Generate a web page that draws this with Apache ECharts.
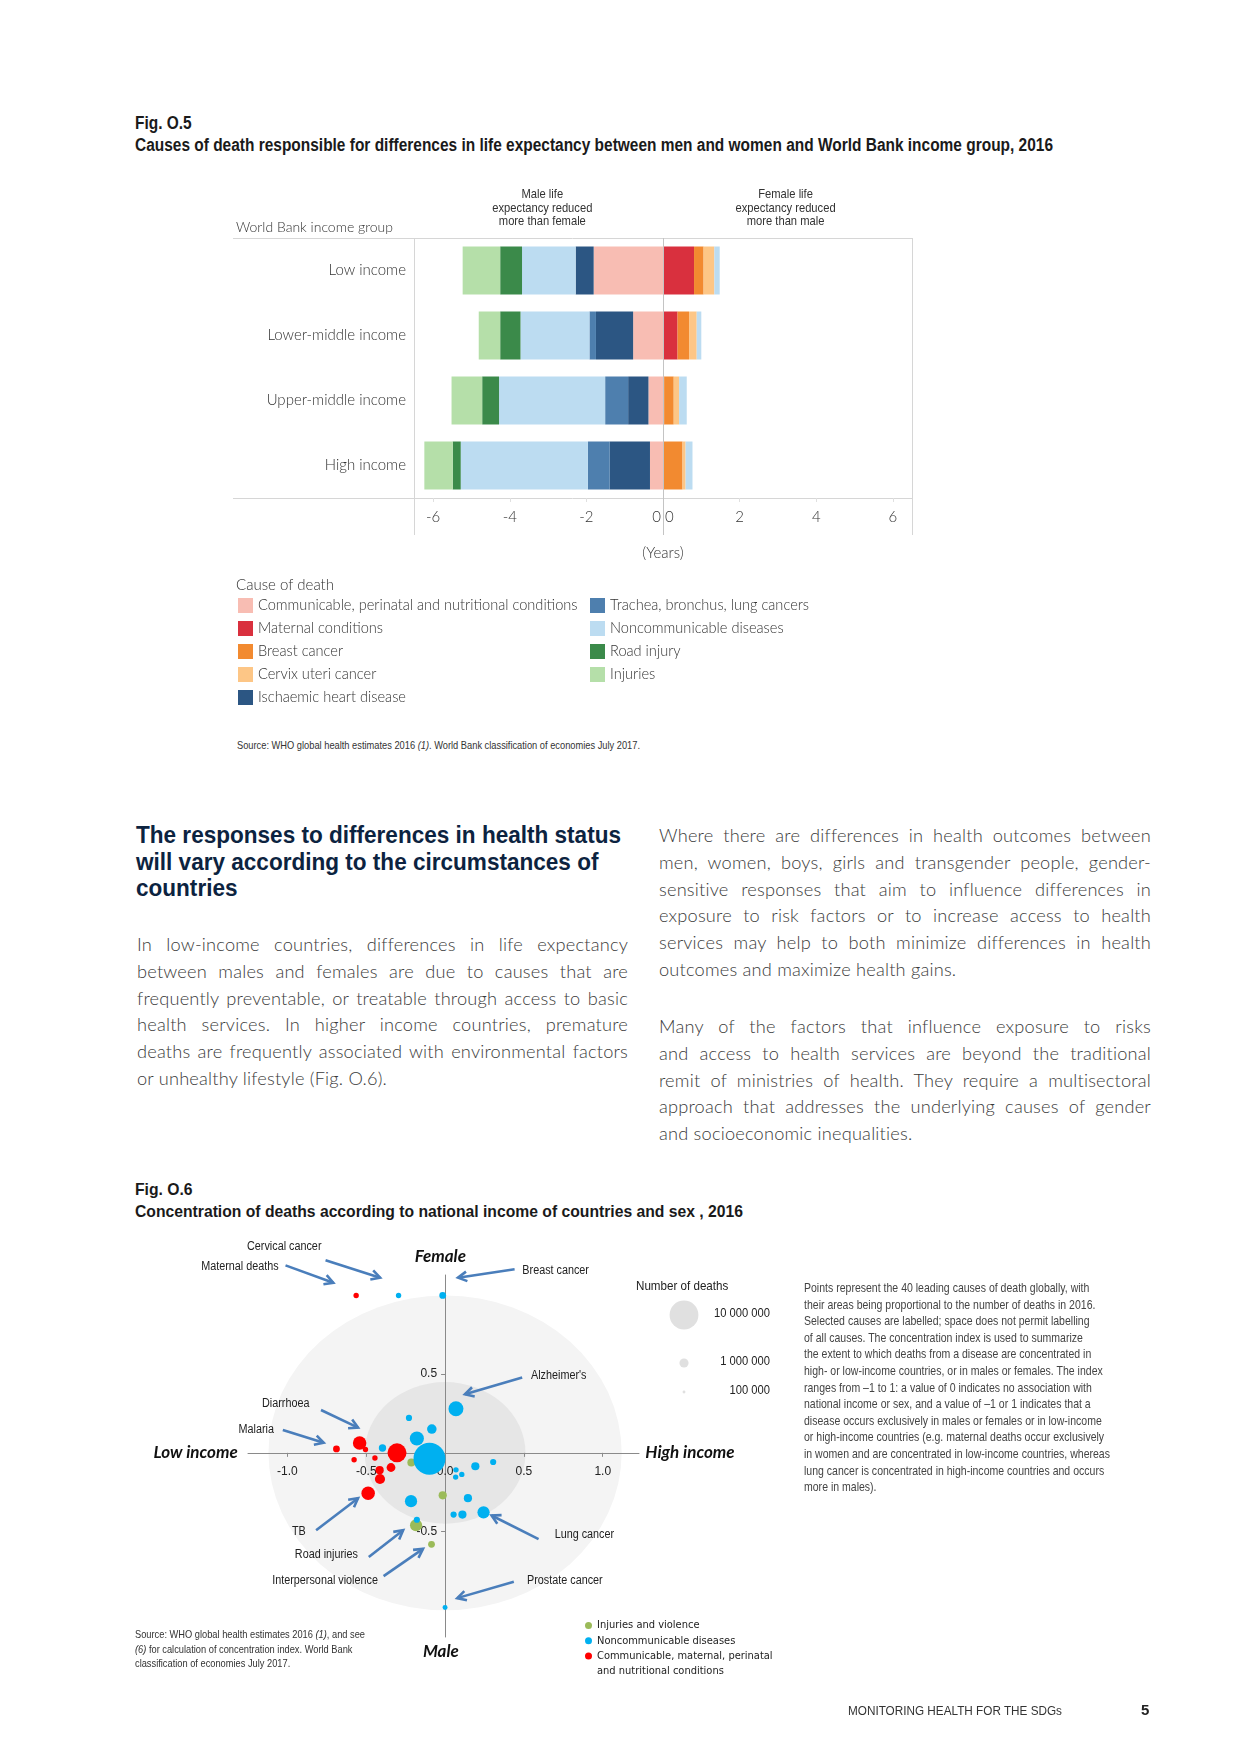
<!DOCTYPE html>
<html><head><meta charset="utf-8">
<script src="https://cdn.jsdelivr.net/npm/echarts@6/dist/echarts.min.js"></script>
<style>
html,body{margin:0;padding:0;background:#fff;}
body{width:1240px;height:1754px;position:relative;overflow:hidden;font-family:Lato,'Open Sans',sans-serif;}
.abs{position:absolute;}
.narrow{font-family:'Liberation Sans',Arial,sans-serif;white-space:nowrap;transform-origin:0 0;}
.figt{font-weight:bold;color:#1a1a1a;}
.para{font-family:Lato,'Open Sans',sans-serif;font-weight:300;font-size:19px;letter-spacing:0.2px;line-height:26.8px;color:#3a3a3a;}
.para .row{height:26.8px;white-space:nowrap;overflow:visible;}
.para .j{text-align:justify;text-align-last:justify;}
.para.ready .row{white-space:normal;}
.head{font-weight:bold;color:#0c2340;font-size:24px;line-height:26.5px;}
.note{font-size:13.5px;line-height:16.6px;color:#444;}
.src{font-size:11px;color:#333;}
</style></head>
<body>
<div id="t5" class="abs narrow figt" style="left:135px;top:112px;font-size:18px;line-height:22px;">Fig. O.5<br>Causes of death responsible for differences in life expectancy between men and women and World Bank income group, 2016</div>

<div id="c1" class="abs" style="left:0;top:150px;width:1240px;height:580px;"></div>

<div id="s5" class="abs narrow src" style="left:237px;top:739px;">Source: WHO global health estimates 2016 <i>(1)</i>. World Bank classification of economies July 2017.</div>

<div id="hd" class="abs narrow head" style="left:136px;top:822px;">The responses to differences in health status<br>will vary according to the circumstances of<br>countries</div>

<div class="abs para" style="left:137px;top:931px;width:491px;">
<div class="row j"><span class="ln">In low-income countries, differences in life expectancy</span></div>
<div class="row j"><span class="ln">between males and females are due to causes that are</span></div>
<div class="row j"><span class="ln">frequently preventable, or treatable through access to basic</span></div>
<div class="row j"><span class="ln">health services. In higher income countries, premature</span></div>
<div class="row j"><span class="ln">deaths are frequently associated with environmental factors</span></div>
<div class="row"><span class="ln">or unhealthy lifestyle (Fig. O.6).</span></div>
</div>

<div class="abs para" style="left:659px;top:822px;width:492px;">
<div class="row j"><span class="ln">Where there are differences in health outcomes between</span></div>
<div class="row j"><span class="ln">men, women, boys, girls and transgender people, gender-</span></div>
<div class="row j"><span class="ln">sensitive responses that aim to influence differences in</span></div>
<div class="row j"><span class="ln">exposure to risk factors or to increase access to health</span></div>
<div class="row j"><span class="ln">services may help to both minimize differences in health</span></div>
<div class="row"><span class="ln">outcomes and maximize health gains.</span></div>
</div>

<div class="abs para" style="left:659px;top:1013px;width:492px;">
<div class="row j"><span class="ln">Many of the factors that influence exposure to risks</span></div>
<div class="row j"><span class="ln">and access to health services are beyond the traditional</span></div>
<div class="row j"><span class="ln">remit of ministries of health. They require a multisectoral</span></div>
<div class="row j"><span class="ln">approach that addresses the underlying causes of gender</span></div>
<div class="row"><span class="ln">and socioeconomic inequalities.</span></div>
</div>

<div id="t6" class="abs narrow figt" style="left:135px;top:1179px;font-size:17px;line-height:22px;">Fig. O.6<br>Concentration of deaths according to national income of countries and sex , 2016</div>

<div id="c2" class="abs" style="left:0;top:1225px;width:1240px;height:490px;"></div>

<div id="nt" class="abs narrow note" style="left:804px;top:1280px;">Points represent the 40 leading causes of death globally, with<br>their areas being proportional to the number of deaths in 2016.<br>Selected causes are labelled; space does not permit labelling<br>of all causes. The concentration index is used to summarize<br>the extent to which deaths from a disease are concentrated in<br>high- or low-income countries, or in males or females. The index<br>ranges from –1 to 1: a value of 0 indicates no association with<br>national income or sex, and a value of –1 or 1 indicates that a<br>disease occurs exclusively in males or females or in low-income<br>or high-income countries (e.g. maternal deaths occur exclusively<br>in women and are concentrated in low-income countries, whereas<br>lung cancer is concentrated in high-income countries and occurs<br>more in males).</div>

<div id="s6" class="abs narrow src" style="left:135px;top:1627px;line-height:14.5px;">Source: WHO global health estimates 2016 <i>(1)</i>, and see<br><i>(6)</i> for calculation of concentration index. World Bank<br>classification of economies July 2017.</div>

<div id="ft" class="abs narrow" style="left:848px;top:1704px;font-size:12px;color:#333;">MONITORING HEALTH FOR THE SDGs</div>
<div class="abs" style="left:1141px;top:1701px;font-family:'Liberation Sans',Arial,sans-serif;font-size:15px;font-weight:bold;color:#222;">5</div>

<script>
// ---------------- Fig O.5 data ----------------
const incomeGroups = ['Low income', 'Lower-middle income', 'Upper-middle income', 'High income'];
const communicable = [-1.81, -0.78, -0.38, -0.34];
const maternal     = [0.81, 0.38, 0.03, 0.00];
const breastCancer = [0.25, 0.30, 0.25, 0.51];
const cervixCancer = [0.28, 0.20, 0.14, 0.08];
const ischaemic    = [-0.47, -0.97, -0.53, -1.05];
const tracheaLung  = [0.00, -0.17, -0.60, -0.57];
const ncdNegative  = [-1.40, -1.80, -2.77, -3.32];
const ncdPositive  = [0.14, 0.12, 0.20, 0.18];
const roadInjury   = [-0.57, -0.53, -0.44, -0.21];
const injuries     = [-0.98, -0.56, -0.80, -0.74];
const yearTicks    = [-6, -4, -2, 0, 2, 4, 6];

// ---------------- Fig O.6 data ----------------
// income concentration index, sex concentration index, deaths (thousands)
const ncdIncome  = [0.069, -0.229, -0.084, -0.179, -0.397, -0.099, 0.069, 0.067, 0.106, 0.192, 0.305, -0.216, 0.145, 0.054, 0.110, 0.244, -0.179, -0.295, -0.015, 0.000];
const ncdSex     = [0.280, 0.222, 0.151, 0.091, 0.031, -0.037, -0.108, -0.154, -0.137, -0.085, -0.058, -0.307, -0.288, -0.392, -0.392, -0.378, -0.425, 1.000, 1.000, -0.983];
const ncdDeaths  = [2700, 460, 1100, 2400, 650, 12300, 350, 350, 350, 810, 460, 1800, 810, 460, 810, 1800, 460, 350, 560, 300];

const cmpIncome  = [-0.542, -0.505, -0.689, -0.305, -0.577, -0.445, -0.415, -0.343, -0.413, -0.488, -0.564];
const cmpSex     = [0.062, 0.021, 0.025, 0.000, -0.044, -0.033, -0.110, -0.093, -0.166, -0.257, 1.000];
const cmpDeaths  = [2200, 350, 560, 4350, 350, 350, 810, 930, 1250, 2200, 350];

const injIncome  = [-0.214, -0.015, -0.184, -0.086];
const injSex     = [-0.062, -0.270, -0.460, -0.581];
const injDeaths  = [770, 810, 1800, 560];

const sizeLegendDeaths = [10000, 1000, 100];
const sizeLegendLabels = ['10 000 000', '1 000 000', '100 000'];

const axisTicksX = [-1, -0.5, 0, 0.5, 1];
const axisTicksY = [-0.5, 0.5];

// annotations (data coordinates)
const noteLabels = [
  ['Cervical cancer', -1.020, 1.313, 'center'],
  ['Maternal deaths', -1.056, 1.185, 'right'],
  ['Breast cancer', 0.490, 1.160, 'left'],
  ["Alzheimer's", 0.545, 0.490, 'left'],
  ['Diarrhoea', -0.860, 0.315, 'right'],
  ['Malaria', -1.085, 0.145, 'right'],
  ['TB', -0.927, -0.502, 'center'],
  ['Road injuries', -0.753, -0.648, 'center'],
  ['Interpersonal violence', -0.426, -0.810, 'right'],
  ['Prostate cancer', 0.520, -0.810, 'left'],
  ['Lung cancer', 0.695, -0.520, 'left']
];
const arrowFrom = [[-0.758, 1.223], [-1.012, 1.191], [0.441, 1.166], [0.489, 0.479], [-0.787, 0.272], [-1.029, 0.145], [-0.818, -0.492], [-0.484, -0.662], [-0.390, -0.783], [0.436, -0.819], [0.593, -0.548]];
const arrowTo   = [[-0.412, 1.113], [-0.709, 1.081], [0.082, 1.113], [0.126, 0.372], [-0.552, 0.160], [-0.770, 0.064], [-0.552, -0.288], [-0.266, -0.492], [-0.140, -0.610], [0.077, -0.923], [0.295, -0.398]];

const NARROW = "'Liberation Sans',Arial,sans-serif";
const COND = "'DejaVu Sans Condensed',sans-serif";
const LIGHT = "Lato,'Open Sans',sans-serif";
const ARIAL = "'Liberation Sans',Arial,sans-serif";

// fit condensed HTML text blocks to the measured widths of the original
function fitWidth(id, target) {
  const el = document.getElementById(id);
  const w = el.getBoundingClientRect().width;
  if (w > 0) el.style.transform = 'scaleX(' + (target / w) + ')';
}
fitWidth('t5', 918); fitWidth('t6', 608); fitWidth('hd', 485); fitWidth('s5', 403);
fitWidth('nt', 306); fitWidth('s6', 230); fitWidth('ft', 214);

// size body text so that the longest (unwrapped) line just fits its column
(function () {
  const spans = document.querySelectorAll('.para .ln');
  let maxRatio = 0;
  spans.forEach(s => {
    const w = s.getBoundingClientRect().width;
    const cw = s.parentElement.parentElement.clientWidth;
    maxRatio = Math.max(maxRatio, w / cw);
  });
  const f = Math.min(1.08, 0.985 / maxRatio);
  document.querySelectorAll('.para').forEach(p => { p.style.fontSize = (19 * f) + 'px'; });
  // re-check after resizing (letter-spacing does not scale)
  let worst = 0;
  spans.forEach(s => { worst = Math.max(worst, s.getBoundingClientRect().width / s.parentElement.parentElement.clientWidth); });
  if (worst > 0.995) {
    document.querySelectorAll('.para').forEach(p => { p.style.fontSize = (19 * f * 0.99 / worst) + 'px'; });
  }
  document.querySelectorAll('.para').forEach(p => p.classList.add('ready'));
})();

// ================= Chart 1 =================
const chart1 = echarts.init(document.getElementById('c1'));
const G1 = {left: 414, top: 88, width: 498, height: 260};
const barDefs = [
  ['Communicable, perinatal and nutritional conditions', communicable, '#f8bdb3'],
  ['Maternal conditions', maternal, '#d9303e'],
  ['Breast cancer', breastCancer, '#f28a30'],
  ['Cervix uteri cancer', cervixCancer, '#fdc686'],
  ['Ischaemic heart disease', ischaemic, '#2c5683'],
  ['Trachea, bronchus, lung cancers', tracheaLung, '#4e7fae'],
  ['Noncommunicable diseases', ncdNegative, '#bcdcf1'],
  ['Noncommunicable diseases', ncdPositive, '#bcdcf1'],
  ['Road injury', roadInjury, '#3b8a4a'],
  ['Injuries', injuries, '#b5dfa9']
];
const legendText = {fontFamily: LIGHT, fontSize: 14.6, color: '#333', fontWeight: 300};
chart1.setOption({
  animation: false,
  grid: G1,
  legend: [
    {orient: 'vertical', left: 238, top: 448, padding: 0, itemWidth: 15, itemHeight: 15, itemGap: 8, icon: 'rect',
     selectedMode: false, textStyle: legendText,
     data: ['Communicable, perinatal and nutritional conditions', 'Maternal conditions', 'Breast cancer', 'Cervix uteri cancer', 'Ischaemic heart disease']},
    {orient: 'vertical', left: 590, top: 448, padding: 0, itemWidth: 15, itemHeight: 15, itemGap: 8, icon: 'rect',
     selectedMode: false, textStyle: legendText,
     data: ['Trachea, bronchus, lung cancers', 'Noncommunicable diseases', 'Road injury', 'Injuries']}
  ],
  xAxis: {
    type: 'value', min: -6.5, max: 6.5,
    axisLine: {show: false}, splitLine: {show: false},
    axisTick: {show: true, customValues: yearTicks, length: 4, lineStyle: {color: '#e0e0e0'}},
    axisLabel: {customValues: yearTicks, margin: 12, fontFamily: LIGHT, fontSize: 15, fontWeight: 300, color: '#333',
      formatter: v => v === 0 ? '0 0' : String(v)},
    name: '(Years)', nameLocation: 'middle', nameGap: 48,
    nameTextStyle: {fontFamily: LIGHT, fontSize: 15, fontWeight: 300, color: '#333'}
  },
  yAxis: {
    type: 'category', inverse: true, data: incomeGroups,
    axisLine: {show: false}, axisTick: {show: false},
    axisLabel: {margin: 8, fontFamily: LIGHT, fontSize: 15, fontWeight: 300, color: '#333'}
  },
  series: barDefs.map(d => ({
    type: 'bar', name: d[0], stack: 'total', data: d[1], barWidth: 48,
    itemStyle: {color: d[2]}, emphasis: {disabled: true}, silent: true
  }))
});
(function () {
  const px = v => chart1.convertToPixel({xAxisIndex: 0}, v);
  const xz = px(0), xl = px(-6.5), xr = px(6.5), xm = px(-3.15), xf = px(3.2);
  const top = G1.top, bot = G1.top + G1.height, ext = bot + 37;
  const ls = {stroke: '#d6d6d6', lineWidth: 1};
  const hdr = {fontFamily: NARROW, fontSize: 13, lineHeight: 13.5, fill: '#333', align: 'center', verticalAlign: 'top'};
  chart1.setOption({
    graphic: [
      {type: 'line', silent: true, shape: {x1: 233, y1: top + 0.5, x2: xr, y2: top + 0.5}, style: ls},
      {type: 'line', silent: true, shape: {x1: 233, y1: bot + 0.5, x2: xr, y2: bot + 0.5}, style: ls},
      {type: 'line', silent: true, shape: {x1: xl + 0.5, y1: top, x2: xl + 0.5, y2: ext}, style: ls},
      {type: 'line', silent: true, shape: {x1: xr + 0.5, y1: top, x2: xr + 0.5, y2: ext}, style: ls},
      {type: 'line', silent: true, z: 10, shape: {x1: xz + 0.5, y1: top, x2: xz + 0.5, y2: ext}, style: {stroke: '#c4c4c4', lineWidth: 1}},
      {type: 'text', silent: true, x: xm, y: 38, scaleX: 0.86, style: Object.assign({text: 'Male life\nexpectancy reduced\nmore than female'}, hdr)},
      {type: 'text', silent: true, x: xf, y: 38, scaleX: 0.86, style: Object.assign({text: 'Female life\nexpectancy reduced\nmore than male'}, hdr)},
      {type: 'text', silent: true, x: 236, y: 77, style: {text: 'World Bank income group', fontFamily: LIGHT, fontWeight: 300, fontSize: 14, fill: '#333', verticalAlign: 'middle'}},
      {type: 'text', silent: true, x: 236, y: 435, style: {text: 'Cause of death', fontFamily: LIGHT, fontWeight: 300, fontSize: 15, fill: '#333', verticalAlign: 'middle'}}
    ]
  });
})();

// ================= Chart 2 =================
const chart2 = echarts.init(document.getElementById('c2'));
const G2 = {left: 248, top: 50, width: 391, height: 362};
const X2 = {min: -1.25, max: 1.23}, Y2 = {min: -1.17, max: 1.13};
// place the axes on the zero lines (labels and ticks move with them)
const xAxisOffset = -G2.height * (0 - Y2.min) / (Y2.max - Y2.min);
const yAxisOffset = -G2.width * (0 - X2.min) / (X2.max - X2.min);
const R10M = 14.4; // radius in px for 10 000 000 deaths
const sizeOf = d => 2 * R10M * Math.sqrt(d / 10000);
const zip = (a, b, c) => a.map((v, i) => [v, b[i], c[i]]);
const bandRx = [1.12, 0.51], bandRy = [1.0, 0.45], bandColor = ['#f4f4f4', '#e6e6e6'];
const cmpName = 'Communicable, maternal, perinatal and nutritional conditions';
chart2.setOption({
  animation: false,
  grid: G2,
  legend: {
    orient: 'vertical', left: 585, top: 394, padding: 0, itemWidth: 7, itemHeight: 7, itemGap: 2.3, icon: 'circle',
    selectedMode: false,
    textStyle: {fontFamily: COND, fontSize: 11, lineHeight: 13, color: '#222'},
    formatter: n => n === cmpName ? 'Communicable, maternal, perinatal' : n,
    data: ['Injuries and violence', 'Noncommunicable diseases', cmpName]
  },
  xAxis: {
    type: 'value', min: X2.min, max: X2.max, z: 1, offset: xAxisOffset,
    axisLine: {onZero: false, lineStyle: {color: '#8a8a8a', width: 1}},
    splitLine: {show: false},
    axisTick: {show: true, customValues: axisTicksX, length: 4, lineStyle: {color: '#8a8a8a'}},
    axisLabel: {customValues: axisTicksX, margin: 13, fontFamily: ARIAL, fontSize: 12, color: '#222', formatter: v => v.toFixed(1)}
  },
  yAxis: {
    type: 'value', min: Y2.min, max: Y2.max, z: 1, offset: yAxisOffset,
    axisLine: {onZero: false, lineStyle: {color: '#8a8a8a', width: 1}},
    splitLine: {show: false},
    axisTick: {show: true, customValues: axisTicksY, length: 4, lineStyle: {color: '#8a8a8a'}},
    axisLabel: {customValues: axisTicksY, margin: 8, fontFamily: ARIAL, fontSize: 12, color: '#222', formatter: v => v.toFixed(1)}
  },
  series: [
    {
      type: 'custom', z: 0, silent: true, data: [[0, 0, 0], [0, 0, 1]],
      renderItem: (params, api) => {
        const i = api.value(2);
        const c = api.coord([api.value(0), api.value(1)]);
        const rx = api.size([bandRx[i], 0])[0];
        const ry = api.size([0, bandRy[i]])[1];
        return {type: 'circle', x: c[0], y: c[1], scaleX: 1, scaleY: ry / rx,
                shape: {cx: 0, cy: 0, r: rx}, style: {fill: bandColor[i]}};
      }
    },
    {type: 'scatter', name: 'Injuries and violence', z: 2, data: zip(injIncome, injSex, injDeaths),
     symbolSize: v => sizeOf(v[2]), itemStyle: {color: '#9bbb59', opacity: 1}, emphasis: {disabled: true}, silent: true},
    {type: 'scatter', name: cmpName, z: 2, data: zip(cmpIncome, cmpSex, cmpDeaths),
     symbolSize: v => sizeOf(v[2]), itemStyle: {color: '#ff0000', opacity: 1}, emphasis: {disabled: true}, silent: true},
    {type: 'scatter', name: 'Noncommunicable diseases', z: 2, data: zip(ncdIncome, ncdSex, ncdDeaths),
     symbolSize: v => sizeOf(v[2]), itemStyle: {color: '#00b0f0', opacity: 1}, emphasis: {disabled: true}, silent: true}
  ]
});
(function () {
  const cp = (x, y) => chart2.convertToPixel({gridIndex: 0}, [x, y]);
  const g = [];
  const AC = '#4a7ebb';
  arrowFrom.forEach((f, i) => {
    const a = cp(f[0], f[1]), b = cp(arrowTo[i][0], arrowTo[i][1]);
    const ang = Math.atan2(b[1] - a[1], b[0] - a[0]);
    const L = 10, w = 0.5;
    const p1 = [b[0] - L * Math.cos(ang - w), b[1] - L * Math.sin(ang - w)];
    const p2 = [b[0] - L * Math.cos(ang + w), b[1] - L * Math.sin(ang + w)];
    g.push({type: 'line', silent: true, z: 20, shape: {x1: a[0], y1: a[1], x2: b[0], y2: b[1]}, style: {stroke: AC, lineWidth: 2.6}});
    g.push({type: 'polyline', silent: true, z: 20, shape: {points: [p1, b, p2]}, style: {stroke: AC, lineWidth: 2.6, fill: null}});
  });
  noteLabels.forEach(l => {
    const p = cp(l[1], l[2]);
    g.push({type: 'text', silent: true, z: 20, x: p[0], y: p[1], scaleX: 0.9,
      style: {text: l[0], fontFamily: NARROW, fontSize: 12, fill: '#222', align: l[3], verticalAlign: 'middle'}});
  });
  const big = {fontFamily: LIGHT, fontSize: 17, fontWeight: 'bold', fontStyle: 'italic', fill: '#111', verticalAlign: 'middle'};
  [['Female', -0.03, 1.245, 'center'], ['Male', -0.027, -1.265, 'center'], ['Low income', -1.315, 0, 'right'], ['High income', 1.27, 0, 'left']].forEach(t => {
    const p = cp(t[1], t[2]);
    g.push({type: 'text', silent: true, z: 20, x: p[0], y: p[1], style: Object.assign({text: t[0], align: t[3]}, big)});
  });
  // continuation line of the third colour-legend entry
  g.push({type: 'text', silent: true, x: 597, y: 446, style: {text: 'and nutritional conditions', fontFamily: COND, fontSize: 11, fill: '#222', verticalAlign: 'middle'}});
  // size legend
  g.push({type: 'text', silent: true, x: 636, y: 61, scaleX: 0.86, style: {text: 'Number of deaths', fontFamily: NARROW, fontSize: 13.5, fill: '#222', verticalAlign: 'middle'}});
  const ly = [90, 138, 167];
  sizeLegendDeaths.forEach((d, i) => {
    g.push({type: 'circle', silent: true, shape: {cx: 684, cy: ly[i], r: sizeOf(d) / 2}, style: {fill: '#e0e0e0'}});
    g.push({type: 'text', silent: true, x: 770, y: ly[i] - 2, scaleX: 0.86, style: {text: sizeLegendLabels[i], fontFamily: NARROW, fontSize: 13, fill: '#222', align: 'right', verticalAlign: 'middle'}});
  });
  chart2.setOption({graphic: g});
})();
</script>
</body></html>
